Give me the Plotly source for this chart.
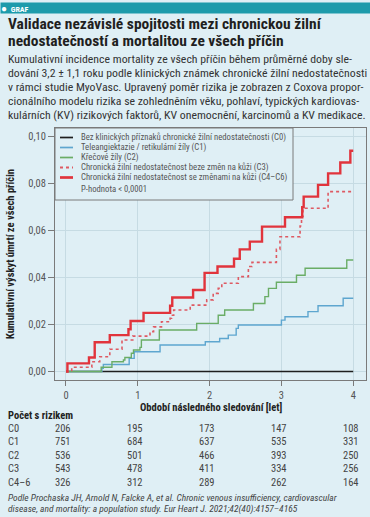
import plotly.graph_objects as go

# ---------------- data ----------------
series_names = [
    "Bez klinických příznaků chronické žilní nedostatečnosti (C0)",
    "Teleangiektazie / retikulární žíly (C1)",
    "Křečové žíly (C2)",
    "Chronická žilní nedostatečnost beze změn na kůži (C3)",
    "Chronická žilní nedostatečnost se změnami na kůži (C4–C6)",
]
p_value_text = "P-hodnota < 0,0001"

c0_t = []
c0_y = []
c1_t = [0.50, 0.52, 0.88, 0.95, 1.31, 1.94, 2.14, 2.26, 2.37, 2.40, 3.00, 3.05, 3.37, 3.51, 3.86]
c1_y = [0.0014, 0.0030, 0.0056, 0.0084, 0.0113, 0.0127, 0.0141, 0.0155, 0.0184, 0.0198, 0.0219, 0.0233, 0.0255, 0.0280, 0.0312]
c2_t = [0.49, 0.64, 0.80, 0.82, 0.91, 0.94, 1.03, 1.05, 1.30, 1.82, 2.12, 2.21, 2.61, 2.77, 2.82, 2.93, 3.21, 3.33, 3.91]
c2_y = [0.0018, 0.0042, 0.0049, 0.0060, 0.0078, 0.0092, 0.0103, 0.0134, 0.0177, 0.0205, 0.0240, 0.0262, 0.0290, 0.0319, 0.0354, 0.0380, 0.0410, 0.0440, 0.0475]
c3_t = [0.08, 0.36, 0.47, 0.61, 0.78, 0.93, 1.17, 1.22, 1.33, 1.45, 1.47, 1.50, 1.73, 1.96, 2.05, 2.12, 2.17, 2.40, 2.54, 2.59, 2.93, 2.98, 3.26, 3.28, 3.30, 3.65]
c3_y = [0.0018, 0.0042, 0.0063, 0.0095, 0.0134, 0.0151, 0.0170, 0.0190, 0.0212, 0.0227, 0.0240, 0.0262, 0.0283, 0.0305, 0.0333, 0.0354, 0.0376, 0.0404, 0.0447, 0.0465, 0.0520, 0.0574, 0.0620, 0.0660, 0.0695, 0.0766]
c46_t = [0.02, 0.32, 0.40, 0.61, 0.87, 0.90, 1.08, 1.45, 1.48, 1.77, 1.93, 2.11, 2.34, 2.42, 2.56, 2.73, 3.05, 3.29, 3.31, 3.51, 3.65, 3.82, 3.96]
c46_y = [0.0035, 0.0060, 0.0125, 0.0155, 0.0180, 0.0215, 0.0250, 0.0280, 0.0315, 0.0347, 0.0420, 0.0447, 0.0480, 0.0520, 0.0553, 0.0617, 0.0657, 0.0700, 0.0745, 0.0795, 0.0844, 0.0890, 0.0940]
t_end = 4.0

x_ticks = [0, 1, 2, 3, 4]
y_ticks = [0.00, 0.02, 0.04, 0.06, 0.08, 0.10]

risk_labels = ["C0", "C1", "C2", "C3", "C4–6"]
risk_c0 = [206, 195, 173, 147, 108]
risk_c1 = [751, 684, 637, 535, 331]
risk_c2 = [536, 501, 466, 393, 250]
risk_c3 = [543, 478, 411, 334, 256]
risk_c46 = [326, 312, 289, 262, 164]

header_text = "GRAF"
title_lines = ["Validace nezávislé spojitosti mezi chronickou žilní",
               "nedostatečností a mortalitou ze všech příčin"]
subtitle_lines = [
    "Kumulativní incidence mortality ze všech příčin během průměrné doby sle-",
    "dování 3,2 ± 1,1 roku podle klinických známek chronické žilní nedostatečnosti",
    "v rámci studie MyoVasc. Upravený poměr rizika je zobrazen z Coxova propor-",
    "cionálního modelu rizika se zohledněním věku, pohlaví, typických kardiovas-",
    "kulárních (KV) rizikových faktorů, KV onemocnění, karcinomů a KV medikace.",
]
citation_lines = [
    "Podle Prochaska JH, Arnold N, Falcke A, et al. Chronic venous insufficiency, cardiovascular",
    "disease, and mortality: a population study. Eur Heart J. 2021;42(40):4157–4165",
]

# ---------------- style ----------------
W, H = 370, 517
L, R, T, B = 55, 366, 128, 380
BG = "#dfeff5"
TEAL = "#1d9bab"
GRID = "#c6dbe3"
FRAME = "#7a7a7a"
FONT = "Liberation Sans Narrow, Roboto Condensed, Roboto, sans-serif"
colors = ["#1e1e1e", "#5ea6cf", "#6aad66", "#de5a63", "#e1343c"]
dashes = ["solid", "solid", "solid", "dot", "solid"]
widths = [1.4, 1.4, 1.4, 1.6, 2.4]


def pxx(xp):
    return (xp - L) / (R - L)


def pxy(yp):
    return (B - yp) / (B - T)


def step(ts, ys):
    return [0] + list(ts) + [t_end], [0] + list(ys) + [ys[-1] if ys else 0]


fig = go.Figure()
all_series = [(c0_t, c0_y), (c1_t, c1_y), (c2_t, c2_y), (c3_t, c3_y), (c46_t, c46_y)]
for i, (ts, ys) in enumerate(all_series):
    xs, yv = step(ts, ys)
    fig.add_trace(go.Scatter(x=xs, y=yv, mode="lines", line_shape="hv",
                             name=series_names[i], showlegend=False, hoverinfo="skip",
                             line=dict(color=colors[i], width=widths[i], dash=dashes[i])))

shapes = []
annotations = []

# header bar (annotation with background, spanning the full width)
annotations.append(dict(text="<span style='font-size:10px'>●</span>&nbsp;&nbsp;<b>" + header_text + "</b>",
                        xref="paper", yref="paper", x=pxx(0), y=pxy(2),
                        xanchor="left", yanchor="top", showarrow=False, align="left",
                        width=370, height=10, bgcolor=TEAL, borderpad=0, valign="middle",
                        font=dict(family=FONT, size=8, color="white")))

# title and subtitle
for k, line in enumerate(title_lines):
    annotations.append(dict(text="<b>" + line + "</b>", xref="paper", yref="paper",
                            x=pxx(6), y=pxy(24 + 17 * k), xanchor="left", yanchor="middle",
                            showarrow=False, font=dict(family=FONT, size=15.5, color="#1f1f1f")))
for k, line in enumerate(subtitle_lines):
    annotations.append(dict(text=line, xref="paper", yref="paper",
                            x=pxx(6), y=pxy(59 + 14 * k), xanchor="left", yanchor="middle",
                            showarrow=False, font=dict(family=FONT, size=11.8, color="#333333")))

# legend box
shapes.append(dict(type="rect", xref="paper", yref="paper", x0=pxx(55), x1=pxx(293),
                   y0=pxy(200), y1=pxy(128), fillcolor=BG, line=dict(color=FRAME, width=1),
                   layer="above"))
for i, name in enumerate(series_names):
    yy = pxy(137.5 + 10 * i)
    shapes.append(dict(type="line", xref="paper", yref="paper", x0=pxx(60), x1=pxx(73),
                       y0=yy, y1=yy, line=dict(color=colors[i], width=widths[i] + 0.3, dash=dashes[i]),
                       layer="above"))
    annotations.append(dict(text=name, xref="paper", yref="paper", x=pxx(79), y=yy,
                            xanchor="left", yanchor="middle", showarrow=False,
                            font=dict(family=FONT, size=8.7, color="#555555")))
annotations.append(dict(text=p_value_text, xref="paper", yref="paper", x=pxx(79), y=pxy(189),
                        xanchor="left", yanchor="middle", showarrow=False,
                        font=dict(family=FONT, size=8.7, color="#555555")))

# axis titles
annotations.append(dict(text="<b>Kumulativní výskyt úmrtí ze všech příčin</b>", xref="paper",
                        yref="paper", x=pxx(10), y=pxy(254), textangle=-90, showarrow=False,
                        xanchor="center", yanchor="middle",
                        font=dict(family=FONT, size=10.5, color="#222222")))
annotations.append(dict(text="<b>Období následného sledování [let]</b>", xref="paper",
                        yref="paper", x=0.5, y=pxy(407), showarrow=False,
                        xanchor="center", yanchor="middle",
                        font=dict(family=FONT, size=10.5, color="#222222")))

# risk table
annotations.append(dict(text="<b>Počet s rizikem</b>", xref="paper", yref="paper",
                        x=pxx(6), y=pxy(415), xanchor="left", yanchor="middle", showarrow=False,
                        font=dict(family=FONT, size=10.5, color="#222222")))
rows = [risk_c0, risk_c1, risk_c2, risk_c3, risk_c46]
for r, (lab, vals) in enumerate(zip(risk_labels, rows)):
    yy = pxy(428 + 13.5 * r)
    annotations.append(dict(text=lab, xref="paper", yref="paper", x=pxx(6), y=yy,
                            xanchor="left", yanchor="middle", showarrow=False,
                            font=dict(family=FONT, size=10.5, color="#444444")))
    for t, v in zip(x_ticks, vals):
        annotations.append(dict(text=str(v), xref="x", yref="paper", x=t - 0.035, y=yy,
                                xanchor="center", yanchor="middle", showarrow=False,
                                font=dict(family=FONT, size=10.5, color="#444444")))

for k, line in enumerate(citation_lines):
    annotations.append(dict(text="<i>" + line + "</i>", xref="paper", yref="paper",
                            x=pxx(6), y=pxy(497 + 12 * k), xanchor="left", yanchor="middle",
                            showarrow=False, font=dict(family=FONT, size=9.5, color="#444444")))

fig.update_layout(
    width=W, height=H,
    margin=dict(l=L, r=W - R, t=T, b=H - B, pad=0),
    paper_bgcolor=BG, plot_bgcolor=BG,
    separators=", ",
    showlegend=False,
    hovermode=False,
    shapes=shapes, annotations=annotations,
    font=dict(family=FONT, size=10, color="#444444"),
)
fig.update_xaxes(range=[-0.153, 4.178], tickvals=x_ticks, ticktext=[str(v) for v in x_ticks],
                 showgrid=True, gridcolor=GRID, gridwidth=1, zeroline=False,
                 showline=True, linecolor=FRAME, linewidth=1, mirror=True,
                 ticks="outside", ticklen=5, tickcolor=FRAME,
                 tickfont=dict(family=FONT, size=10.5, color="#555555"))
fig.update_yaxes(range=[-0.0036, 0.1037], tickvals=y_ticks, tickformat=".2f",
                 showgrid=True, gridcolor=GRID, gridwidth=1, zeroline=False,
                 showline=True, linecolor=FRAME, linewidth=1, mirror=True,
                 ticks="outside", ticklen=6, tickcolor=FRAME,
                 tickfont=dict(family=FONT, size=10.5, color="#555555"))

fig.write_html("out.html", config={"displayModeBar": False, "staticPlot": True},
               post_script="document.body.style.margin='0';document.body.style.background='%s';" % BG)
